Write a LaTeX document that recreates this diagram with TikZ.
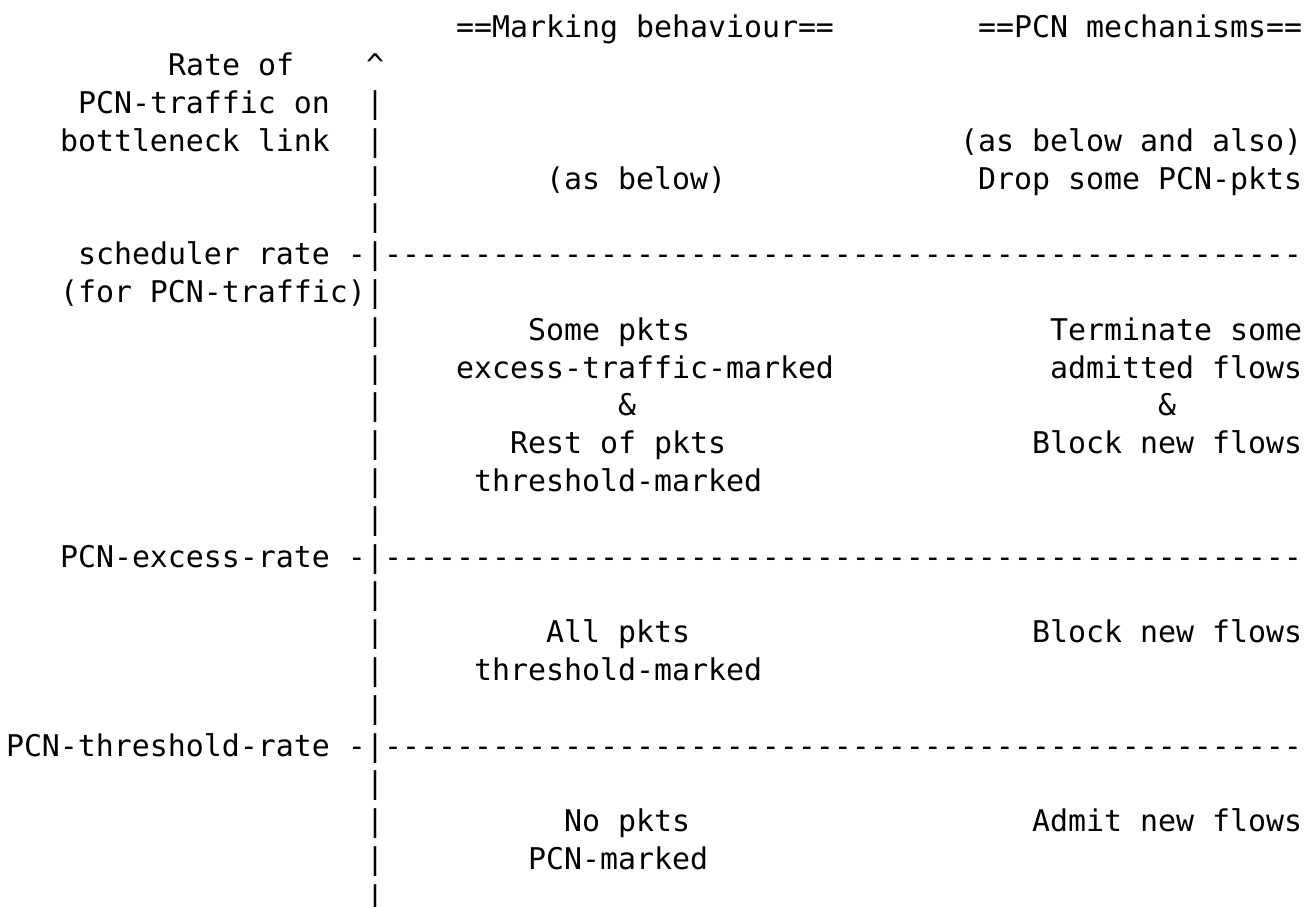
\documentclass[tikz,border=0pt]{standalone}
\usepackage{fontspec}
\setmonofont{DejaVu Sans Mono}
\newcommand\putline[4]{\node[mono] (#1) at ({6+18*(#2)},{869-37.8*((#3)-1)}) {#4};}
\newcommand\dashrow{---------------------------------------------------}
\begin{document}
\begin{tikzpicture}[x=1pt,y=1pt,
  mono/.style={anchor=base west, inner sep=0pt, outer sep=0pt, text=black,
    font=\ttfamily\fontsize{29.9}{36}\selectfont}]
\useasboundingbox (0,0) rectangle (1307,907);
% headings
\putline{hmark}{25}{1}{==Marking behaviour==}
\putline{hpcn}{54}{1}{==PCN mechanisms==}
% axis
\putline{caret}{20}{2}{\textasciicircum}
\foreach \k in {3,...,24} {\putline{bar\k}{20}{\k}{|}}
% axis labels
\putline{yl1}{9}{2}{Rate of}
\putline{yl2}{4}{3}{PCN-traffic on}
\putline{yl3}{3}{4}{bottleneck link}
% top region
\putline{alsoa}{53}{4}{(as below and also)}
\putline{asbelow}{30}{5}{(as below)}
\putline{drop}{54}{5}{Drop some PCN-pkts}
% scheduler rate
\putline{sched}{4}{7}{scheduler rate -}
\putline{schedd}{21}{7}{\dashrow}
\putline{schedb}{3}{8}{(for PCN-traffic)}
% excess region
\putline{m1}{29}{9}{Some pkts}
\putline{m2}{25}{10}{excess-traffic-marked}
\putline{m3}{34}{11}{\&}
\putline{m4}{28}{12}{Rest of pkts}
\putline{m5}{26}{13}{threshold-marked}
\putline{p1}{58}{9}{Terminate some}
\putline{p2}{58}{10}{admitted flows}
\putline{p3}{64}{11}{\&}
\putline{p4}{57}{12}{Block new flows}
% PCN-excess-rate
\putline{exc}{3}{15}{PCN-excess-rate -}
\putline{excd}{21}{15}{\dashrow}
% threshold region
\putline{t1}{30}{17}{All pkts}
\putline{t2}{26}{18}{threshold-marked}
\putline{tp}{57}{17}{Block new flows}
% PCN-threshold-rate
\putline{thr}{0}{20}{PCN-threshold-rate -}
\putline{thrd}{21}{20}{\dashrow}
% lowest region
\putline{n1}{31}{22}{No pkts}
\putline{n2}{29}{23}{PCN-marked}
\putline{np}{57}{22}{Admit new flows}
\end{tikzpicture}
\end{document}
